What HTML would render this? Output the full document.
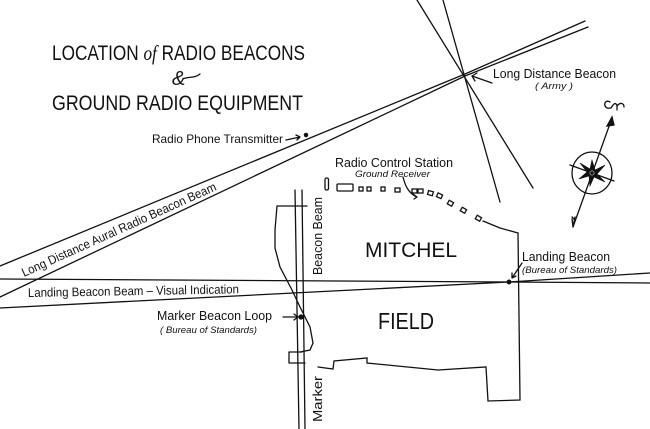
<!DOCTYPE html>
<html><head><meta charset="utf-8"><style>
html,body{margin:0;padding:0;background:#fff;}
svg{display:block;}
text{font-family:"Liberation Sans",sans-serif;fill:#111;}
</style></head><body>
<svg width="650" height="429" viewBox="0 0 650 429" xmlns="http://www.w3.org/2000/svg">
<rect width="650" height="429" fill="#fff"/>
<g stroke="#111" fill="none" stroke-width="1.3" stroke-linecap="round">
<!-- long distance beam -->
<polyline points="0,266 465,74 585,21"/>
<polyline points="0,297 465,76 588,27"/>
<!-- crossing lines -->
<line x1="417" y1="0" x2="533" y2="188"/>
<line x1="443" y1="0" x2="500" y2="202"/>
<line x1="492" y1="83" x2="472" y2="76"/>
<path d="M472,76 l5,-3 M472,76 l3,5"/>
<!-- landing beam -->
<polyline points="0,279 509,282 650,283"/>
<polyline points="0,308 509,282 650,273"/>
<circle cx="509" cy="282" r="1.8" fill="#111"/>
<path d="M522,263 L512,278 M512,278 l0,-5 M512,278 l4,-2"/>
<!-- vertical beacon beam lines -->
<line x1="295" y1="190" x2="299" y2="429"/>
<line x1="302" y1="190" x2="305" y2="429"/>
<!-- field boundary left loop -->
<path d="M277,206 L307,206 M277,206 L275,230 L275,248 L280,267 L292,290 L300,307 L310,327 L313,343 L310,350 L300,352 M289,352 L302,352 M289,352 L289,363 M289,363 L305,363"/>
<!-- bottom boundary -->
<path d="M318,367 L333,369 L334,361 L367,358 L367,363 L438,370 L486,367 L488,401 L520,400 L518,233 L500,228 L483,221"/>
<!-- buildings -->
<rect x="325" y="178" width="3.5" height="12" rx="1.5"/>
<rect x="337" y="184" width="16" height="7" rx="1"/>
<rect x="359" y="187" width="4" height="4"/>
<rect x="367" y="187" width="4" height="4"/>
<rect x="381" y="187" width="4" height="4"/>
<rect x="395" y="188" width="5" height="4"/>
<rect x="412" y="189" width="5" height="4"/>
<rect x="418" y="189" width="5" height="4"/>
<rect x="428" y="191" width="5" height="4" transform="rotate(15 430 193)"/>
<rect x="437" y="194" width="5" height="4" transform="rotate(25 440 196)"/>
<rect x="448" y="201" width="5" height="4" transform="rotate(30 450 203)"/>
<rect x="461" y="208" width="5" height="4" transform="rotate(30 463 210)"/>
<rect x="476" y="216" width="5" height="4" transform="rotate(30 478 218)"/>
<path d="M403,177 C405,185 408,193 417,197 M417,197 l-4,-3 M417,197 l-3,2"/>
<!-- transmitter arrow -->
<path d="M286,140 L300,137 M300,137 l-4,-2 M300,137 l-3,3"/>
<circle cx="306" cy="135" r="1.6" fill="#111"/>
<!-- marker loop arrow -->
<path d="M283,317 L298,317 M298,317 l-4,-3 M298,317 l-4,3"/>
<circle cx="301" cy="317" r="2" fill="#111"/>
<!-- compass -->
<ellipse cx="592" cy="173" rx="20" ry="21"/>
<line x1="573" y1="227" x2="612" y2="118"/>
<path d="M612,117 l-5,9 l7,-1 z" fill="#111"/>
<path d="M573,227 l2,-10 M573,227 l-1,-8 M575,220 l-3,-3"/>
<line x1="570" y1="165" x2="614" y2="181"/>
<path d="M592,160 L595,170 L605,165 L597,174 L605,182 L594,177 L590,186 L589,176 L579,179 L587,172 L580,163 L590,169 Z" fill="#111" stroke-width="0.6"/>
<circle cx="592" cy="173" r="3" fill="#fff"/>
<circle cx="592" cy="173" r="1.2" fill="#111"/>
<path d="M610,102 C603,98 603,110 610,108 M611,108 C614,103 616,102 617,106 L617,110 M617,106 C620,102 624,103 624,107"/>
<!-- & swash -->
<path d="M183,79 C188,76 194,79 200,74"/>
</g>
<!-- titles -->
<text x="52" y="60" font-size="21" textLength="253" lengthAdjust="spacingAndGlyphs">LOCATION <tspan font-style="italic" font-family="Liberation Serif">of</tspan> RADIO BEACONS</text>
<text x="172" y="85" font-size="20" font-family="Liberation Serif" font-style="italic">&amp;</text>
<text x="52" y="110" font-size="21" textLength="251" lengthAdjust="spacingAndGlyphs">GROUND RADIO EQUIPMENT</text>
<text x="152" y="143" font-size="12" textLength="131" lengthAdjust="spacingAndGlyphs">Radio Phone Transmitter</text>
<text x="493" y="78" font-size="13" textLength="123" lengthAdjust="spacingAndGlyphs">Long Distance Beacon</text>
<text x="535" y="89" font-size="9.5" font-style="italic" textLength="38" lengthAdjust="spacingAndGlyphs">( Army )</text>
<text x="335" y="167" font-size="13" textLength="118" lengthAdjust="spacingAndGlyphs">Radio Control Station</text>
<text x="355" y="177" font-size="9.5" font-style="italic" textLength="75" lengthAdjust="spacingAndGlyphs">Ground Receiver</text>
<text x="365" y="257" font-size="21" textLength="92" lengthAdjust="spacingAndGlyphs">MITCHEL</text>
<text x="378" y="329" font-size="23" textLength="56" lengthAdjust="spacingAndGlyphs">FIELD</text>
<text x="522" y="261" font-size="12.5" textLength="88" lengthAdjust="spacingAndGlyphs">Landing Beacon</text>
<text x="522" y="273" font-size="9.5" font-style="italic" textLength="95" lengthAdjust="spacingAndGlyphs">(Bureau of Standards)</text>
<text x="157" y="320" font-size="12.5" textLength="115" lengthAdjust="spacingAndGlyphs">Marker Beacon Loop</text>
<text x="160" y="333" font-size="9.5" font-style="italic" textLength="97" lengthAdjust="spacingAndGlyphs">( Bureau of Standards)</text>
<text transform="translate(28,297) rotate(-1)" font-size="12.5" textLength="211" lengthAdjust="spacingAndGlyphs">Landing Beacon Beam – Visual Indication</text>
<text transform="translate(24,277) rotate(-24.3)" font-size="12.5" textLength="212" lengthAdjust="spacingAndGlyphs">Long Distance Aural Radio Beacon Beam</text>
<text transform="translate(322,275) rotate(-90)" font-size="12.5" textLength="78" lengthAdjust="spacingAndGlyphs">Beacon Beam</text>
<text transform="translate(322,422) rotate(-90)" font-size="12.5" textLength="46" lengthAdjust="spacingAndGlyphs">Marker</text>
</svg>
</body></html>
